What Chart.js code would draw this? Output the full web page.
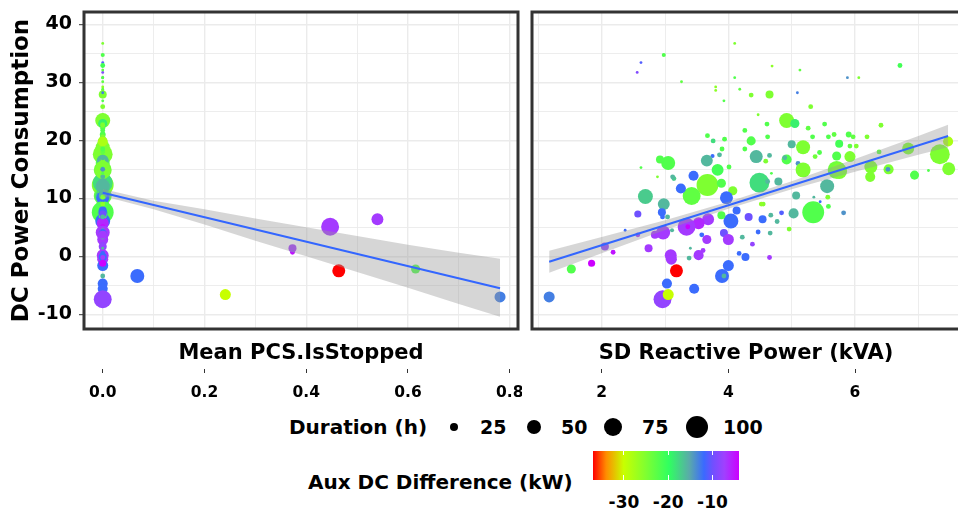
<!DOCTYPE html>
<html><head><meta charset="utf-8">
<script src="https://cdn.jsdelivr.net/npm/chart.js@4"></script>
<style>
html,body{margin:0;padding:0;background:#fff;width:958px;height:514px;overflow:hidden;position:relative;font-family:'DejaVu Sans',sans-serif;font-weight:bold;}
canvas{position:absolute;top:0;}
#c1{left:0}
#c2{left:522px}
.t{position:absolute;white-space:nowrap;color:#000;font-weight:bold;}
.dot{position:absolute;background:#000;border-radius:50%;}
</style></head><body>
<canvas id="c1" width="522" height="400"></canvas>
<canvas id="c2" width="446" height="400"></canvas>
<div id="legend"></div>
<script>
// ---------------- data ----------------
const sdReactive = [4.10,2.98,2.62,2.56,4.69,5.13,6.71,5.88,6.06,4.10,3.26,3.80,3.80,4.18,3.93,4.36,4.65,5.09,5.30,4.47,
4.92,5.05,4.61,5.52,5.26,6.41,4.26,3.67,3.94,4.62,5.33,5.58,5.67,5.90,5.97,6.19,3.76,4.36,5.00,5.18,
5.75,5.92,6.02,3.90,3.75,3.86,4.65,4.44,5.37,5.44,5.71,5.92,6.84,7.34,7.47,6.38,4.92,5.10,3.05,2.92,
3.66,4.01,4.26,4.59,5.18,5.71,6.25,6.24,6.53,6.94,7.16,7.48,3.83,3.45,3.67,3.42,3.25,2.69,2.98,3.14,
3.89,4.07,3.97,4.49,4.62,4.79,5.07,5.56,5.75,5.34,5.03,5.82,5.58,5.45,4.84,4.77,4.67,4.96,4.54,4.55,
4.52,4.32,4.13,4.04,3.89,3.68,3.53,3.34,3.36,2.96,2.95,2.57,3.04,2.97,3.11,3.58,3.66,3.93,4.00,4.22,
4.47,4.38,4.66,2.37,2.57,2.05,2.18,2.74,3.09,3.10,3.53,3.60,3.38,3.40,4.17,4.27,4.65,4.00,3.90,3.93,
3.18,3.03,3.46,2.96,3.05,1.17,1.52,1.84,2.84,2.62,2.88,3.12,4.89,4.68,6.52,5.35,5.57];
const dcPower = [36.7,34.7,33.4,31.7,32.8,32.1,32.9,30.8,30.8,30.8,30.1,29.2,28.6,28.8,26.8,27.8,27.9,28.2,25.8,24.4,
23.4,22.9,22.8,22.8,22.1,22.6,21.7,20.8,20.2,20.6,20.6,20.6,21.0,21.0,20.6,20.6,19.9,19.9,19.3,18.8,
19.4,19.0,19.0,18.5,17.3,17.5,17.4,17.2,17.2,17.9,17.3,17.2,18.6,17.6,19.8,18.0,16.7,16.0,16.1,16.7,
16.5,15.4,18.5,16.4,14.9,14.9,15.4,13.7,15.0,14.0,14.8,15.1,14.9,13.9,12.3,10.4,11.7,10.3,9.0,13.4,
12.6,11.3,10.1,12.7,12.9,12.9,10.5,12.1,14.7,7.6,7.4,7.5,8.6,9.4,7.5,6.0,7.1,4.7,6.4,9.0,
9.0,6.8,7.9,6.1,7.1,6.4,5.7,5.1,5.1,6.8,7.6,7.3,6.8,4.1,4.5,3.7,2.9,4.0,2.9,3.3,
4.2,2.1,4.0,4.5,3.7,1.7,0.7,1.4,0.2,-0.5,0.2,1.0,-0.3,1.4,0.5,-0.1,-0.2,-1.6,-3.4,-3.4,
-2.5,-4.7,-5.6,-7.4,-6.6,-7.0,-2.2,-1.2,3.7,15.3,13.7,13.7,17.0,14.3,15.0,10.2,10.2];
const auxDiff = [-25,-22,-11,-9,-26,-23,-21,-14,-25,-22,-23,-26,-26,-23,-22,-25,-25,-13,-25,-25,
-25,-19,-22,-22,-23,-25,-22,-22,-22,-22,-22,-22,-23,-22,-23,-25,-18,-22,-16,-25,
-21,-23,-25,-22,-12,-16,-16,-16,-24,-22,-22,-25,-25,-25,-28,-23,-22,-14,-22,-22,
-16,-22,-22,-25,-25,-24,-25,-25,-25,-22,-22,-25,-21,-12,-25,-23,-12,-17,-16,-17,
-22,-25,-12,-18,-16,-16,-16,-16,-25,-22,-16,-14,-22,-12,-11,-16,-16,-25,-12,-25,
-26,-10,-12,-12,-22,-7,-6,-7,-4,-12,-12,-10,-16,-7,-16,-12,-7,-10,-7,-16,
-12,-8,-16,-12,-7,-8,-5,-7,-7,-7,-7,-7,-16,-16,-12,-12,-7,-12,-12,-16,
-37,-12,-12,-8,-30,-13,-22,-4,-7,-22,-25,-16,-16,-22,-14,-16,-25];
const duration = [10,13,10,10,10,10,15,10,10,10,10,10,10,10,10,15,25,10,15,10,
56,29,15,15,15,15,15,15,15,15,15,15,15,18,15,15,15,29,25,51,
25,15,15,15,13,15,15,46,15,15,29,37,41,85,33,15,33,15,51,25,
41,15,15,15,56,73,46,33,33,29,10,46,41,33,99,73,33,56,41,15,
29,29,46,85,15,25,25,51,61,99,33,15,15,10,15,15,15,15,25,15,
15,25,25,56,25,41,41,73,15,15,25,22,15,51,13,15,29,25,37,15,
15,15,15,10,15,25,15,25,41,37,33,15,15,10,15,25,15,37,51,15,
46,33,33,73,37,37,29,22,25,10,10,15,15,10,15,10,15];
const meanStopped = [0,0,0,0,0,0,0,0,0,0,0,0,0,0,0,0,0,0,0,0,
0,0,0,0,0,0,0,0,0,0,0,0,0,0,0,0,0,0,0,0,
0,0,0,0,0,0,0,0,0,0,0,0,0,0,0,0,0,0,0,0,
0,0,0,0,0,0,0,0,0,0,0,0,0,0,0,0,0,0,0,0,
0,0,0,0,0,0,0,0,0,0,0,0,0,0,0,0,0,0,0,0,
0,0,0,0,0,0.540,0,0.447,0,0,0,0,0,0,0,0,0,0,0,0,
0,0,0,0,0,0,0.373,0.373,0,0,0,0,0,0,0,0,0,0,0.068,0,
0.464,0,0,0,0.241,0.781,0.615,0,0,0,0,0,0,0,0,0,0];

// smooth fits
const fitStoppedX = [0, 0.781];
const fitStoppedY = [10.97, -5.5];
const bandStoppedX = [0, 0.1, 0.2, 0.3, 0.4, 0.5, 0.6, 0.7, 0.781];
const bandStoppedUpper = [11.6, 9.6, 8.1, 6.5, 5.0, 3.5, 2.0, 0.6, -0.4];
const bandStoppedLower = [10.4, 8.1, 5.5, 2.7, 0.0, -2.7, -5.4, -8.2, -10.4];
const fitReactiveX = [1.17, 7.47];
const fitReactiveY = [-0.93, 20.74];
const bandReactiveX = [1.17, 2, 3, 4, 5, 6, 7, 7.47];
const bandReactiveUpper = [0.97, 3.33, 6.22, 9.41, 12.95, 16.79, 20.73, 22.69];
const bandReactiveLower = [-2.83, 0.53, 4.52, 8.21, 11.55, 14.59, 17.53, 18.79];

// axis / legend labels
const yTitle = 'DC Power Consumption';
const panelTitles = ['Mean PCS.IsStopped', 'SD Reactive Power (kVA)'];
const sizeTitle = 'Duration (h)';
const sizeBreaks = [25, 50, 75, 100];
const colorTitle = 'Aux DC Difference (kW)';
const colorBreaks = [-30, -20, -10];
const colorLimits = [-37, -4];

// ---------------- styles ----------------
const gradStops = [
  [0.00,[255,0,0]],[0.09,[255,140,0]],[0.21,[200,255,0]],[0.36,[128,255,48]],
  [0.52,[48,255,96]],[0.66,[90,170,170]],[0.76,[58,106,255]],[0.82,[112,80,255]],
  [0.90,[160,64,255]],[1.00,[204,0,255]]];
function colorFor(v){
  let t=(v-colorLimits[0])/(colorLimits[1]-colorLimits[0]);
  t=Math.max(0,Math.min(1,t));
  for(let i=1;i<gradStops.length;i++){
    if(t<=gradStops[i][0]){
      const [t0,c0]=gradStops[i-1],[t1,c1]=gradStops[i];
      const f=(t-t0)/(t1-t0);
      const c=c0.map((a,k)=>Math.round(a+(c1[k]-a)*f));
      return `rgb(${c[0]},${c[1]},${c[2]})`;
    }
  }
  return 'rgb(204,0,255)';
}
function diamFor(d){ return Math.max(2.6, 8 + (Math.sqrt(d)-5)*2.8); }

Chart.defaults.font.family = "'DejaVu Sans', sans-serif";
Chart.defaults.font.weight = 'bold';
Chart.defaults.color = '#000';

const panelBorder = { id:'panelBorder', afterDraw(chart){
  const {ctx, chartArea:a} = chart; ctx.save();
  ctx.strokeStyle='#333333'; ctx.lineWidth=3;
  ctx.strokeRect(a.left, a.top, a.right-a.left, a.bottom-a.top); ctx.restore(); } };

const Y_MIN = -12.53, Y_MAX = 42.12;
const isMult = (v, s) => Math.abs(v/s - Math.round(v/s)) < 1e-6;
const fixH = h => s => { s.height = h; s.paddingLeft = 0; s.paddingRight = 0; };

function makePanel(id, xs, cfg){
  const pts = xs.map((x,i)=>({x, y: dcPower[i]}));
  const radii = duration.map(d=>diamFor(d)/2);
  const cols = auxDiff.map(colorFor);
  const yAxis = {
    type:'linear', min:Y_MIN, max:Y_MAX, weight:0,
    afterFit: s => { s.width = cfg.yWidth; s.paddingTop = 0; s.paddingBottom = 0; },
    ticks:{ stepSize:5, includeBounds:false, display:cfg.showY, padding:7,
      font:{size:19, weight:'bold'}, color:'#000',
      callback: v => isMult(v,10) ? String(v) : '' },
    grid:{ color:'#EBEBEB', lineWidth: c => isMult(c.tick.value,10)?1.4:0.9,
      drawTicks:cfg.showY, tickLength:5, tickWidth:1,
      tickColor: c => isMult(c.tick.value,10)?'#333333':'rgba(0,0,0,0)' },
    border:{display:false},
    title:{ display:cfg.showY, text:yTitle, font:{size:23, weight:'bold'}, color:'#000', padding:{top:8,bottom:0} }
  };
  new Chart(document.getElementById(id), {
    type:'scatter',
    data:{ datasets:[
      { type:'scatter', data:pts, pointRadius:radii, pointHoverRadius:radii, pointBackgroundColor:cols,
        pointBorderWidth:0, pointBorderColor:'rgba(0,0,0,0)', order:3, xAxisID:'x', yAxisID:'y' },
      { type:'line', data:cfg.bx.map((x,i)=>({x, y:cfg.bu[i]})), borderColor:'rgba(0,0,0,0)', borderWidth:0,
        pointRadius:0, fill:false, tension:0, order:2, xAxisID:'x', yAxisID:'y' },
      { type:'line', data:cfg.bx.map((x,i)=>({x, y:cfg.bl[i]})), borderColor:'rgba(0,0,0,0)', borderWidth:0,
        pointRadius:0, fill:'-1', backgroundColor:'rgba(153,153,153,0.4)', tension:0, order:2, xAxisID:'x', yAxisID:'y' },
      { type:'line', data:cfg.fx.map((x,i)=>({x, y:cfg.fy[i]})), borderColor:'#3366FF', borderWidth:2,
        pointRadius:0, fill:false, tension:0, order:1, xAxisID:'x', yAxisID:'y' }
    ]},
    options:{
      responsive:false, animation:false, devicePixelRatio:1,
      layout:{ autoPadding:false, padding:{ top:12, left:0, right:cfg.padRight, bottom:0 } },
      plugins:{ legend:{display:false}, tooltip:{enabled:false} },
      scales:{
        x:{ type:'linear', position:'bottom', min:cfg.xmin, max:cfg.xmax, weight:0,
          afterFit: fixH(40),
          ticks:{ display:false, stepSize:cfg.minorStep, includeBounds:false },
          grid:{ color:'#EBEBEB', lineWidth: c => isMult(c.tick.value,cfg.majorStep)?1.4:0.9, drawTicks:false },
          border:{display:false},
          title:{ display:true, text:cfg.title, font:{size:21, weight:'bold'}, color:'#000', padding:{top:0,bottom:3} } },
        x2:{ type:'linear', position:'bottom', min:cfg.xmin, max:cfg.xmax, weight:1,
          afterFit: fixH(31),
          ticks:{ stepSize:cfg.majorStep, includeBounds:false, padding:11, font:{size:15.5, weight:'bold'}, color:'#000',
            autoSkip:false, maxRotation:0, callback: v => cfg.fmt(v) },
          grid:{ drawOnChartArea:false, drawTicks:true, tickLength:4, color:'#333333', lineWidth:1 },
          border:{display:false} },
        y: yAxis
      }
    },
    plugins:[panelBorder]
  });
}

makePanel('c1', meanStopped, { xmin:-0.0368, xmax:0.8163, minorStep:0.1, majorStep:0.2, title:panelTitles[0],
  fmt: v => v.toFixed(1), showY:true, yWidth:84, padRight:4,
  bx:bandStoppedX, bu:bandStoppedUpper, bl:bandStoppedLower, fx:fitStoppedX, fy:fitStoppedY });
makePanel('c2', sdReactive, { xmin:0.899, xmax:7.658, minorStep:1, majorStep:2, title:panelTitles[1],
  fmt: v => String(Math.round(v)), showY:false, yWidth:10, padRight:8,
  bx:bandReactiveX, bu:bandReactiveUpper, bl:bandReactiveLower, fx:fitReactiveX, fy:fitReactiveY });

// ---------------- legend (HTML) ----------------
const root = document.getElementById('legend');
function addText(txt, left, cy, size, center){
  const d=document.createElement('div'); d.className='t'; d.textContent=txt;
  d.style.fontSize=size+'px'; const lh=Math.round(size*1.3); d.style.lineHeight=lh+'px';
  d.style.top=(cy-lh/2)+'px';
  if(center){ d.style.left=(left-60)+'px'; d.style.width='120px'; d.style.textAlign='center'; }
  else d.style.left=left+'px';
  root.appendChild(d);
}
addText(sizeTitle, 289, 427, 20, false);
const keyX = [454, 534, 613, 697];
const keyLabelX = [480, 561, 642, 723];
sizeBreaks.forEach((b,i)=>{
  const dm=diamFor(b); const c=document.createElement('div'); c.className='dot';
  c.style.width=dm+'px'; c.style.height=dm+'px'; c.style.left=(keyX[i]-dm/2)+'px'; c.style.top=(427-dm/2)+'px';
  root.appendChild(c);
  addText(String(b), keyLabelX[i], 427, 19, false);
});
addText(colorTitle, 308, 482, 20, false);
const barL=593, barT=451, barW=146, barH=29;
const bar=document.createElement('div');
bar.style.cssText=`position:absolute;left:${barL}px;top:${barT}px;width:${barW}px;height:${barH}px;`+
  'background:linear-gradient(to right,'+gradStops.map(s=>`rgb(${s[1].join(',')}) ${s[0]*100}%`).join(',')+');';
root.appendChild(bar);
colorBreaks.forEach(v=>{
  const x=barL+(v-colorLimits[0])/(colorLimits[1]-colorLimits[0])*barW;
  [[barT,4],[barT+barH-5,5]].forEach(([t,h])=>{
    const k=document.createElement('div');
    k.style.cssText=`position:absolute;left:${x-0.5}px;top:${t}px;width:1px;height:${h}px;background:#fff;`;
    root.appendChild(k);
  });
  addText(String(v), x, 502, 17, true);
});
</script>
</body></html>
